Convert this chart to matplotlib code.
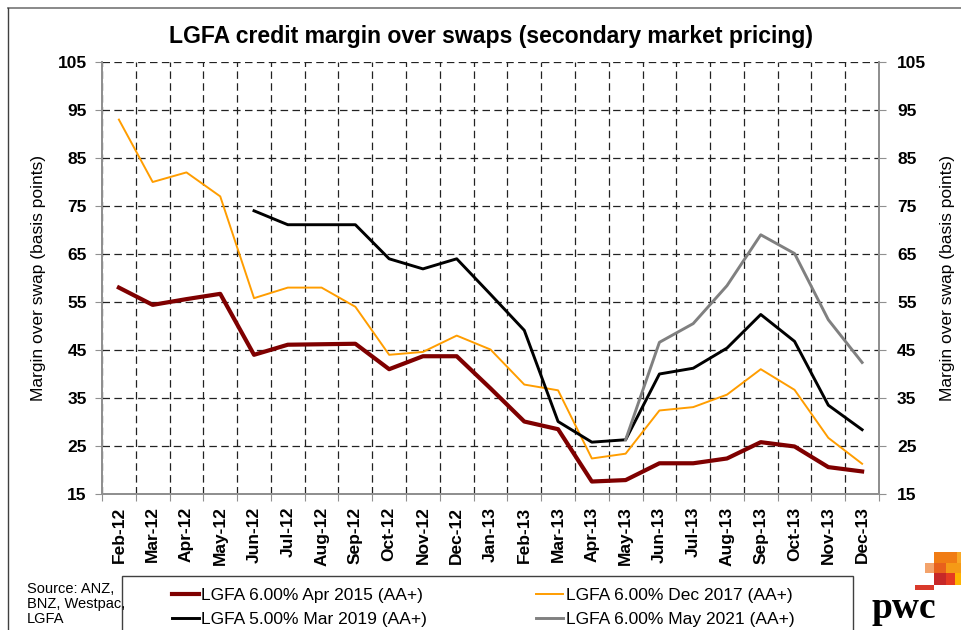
# LGFA credit margin over swaps - secondary market pricing chart
import numpy as np
import matplotlib.pyplot as plt
from matplotlib.patches import Rectangle
from matplotlib.lines import Line2D

plt.rcParams['font.family'] = ['Liberation Sans', 'DejaVu Sans']

# Months on the category axis
months = ['Feb-12', 'Mar-12', 'Apr-12', 'May-12', 'Jun-12', 'Jul-12', 'Aug-12', 'Sep-12',
          'Oct-12', 'Nov-12', 'Dec-12', 'Jan-13', 'Feb-13', 'Mar-13', 'Apr-13', 'May-13',
          'Jun-13', 'Jul-13', 'Aug-13', 'Sep-13', 'Oct-13', 'Nov-13', 'Dec-13']

nan = np.nan

# Margin over swap (basis points)
apr2015 = [58.0, 54.4, 55.6, 56.7, 44.0, 46.1, 46.2, 46.3, 41.0, 43.7, 43.7, 37.0,
           30.1, 28.5, 17.6, 17.9, 21.4, 21.4, 22.4, 25.8, 24.9, 20.6, 19.7]
dec2017 = [93.0, 80.0, 82.0, 77.0, 55.8, 58.0, 58.0, 54.0, 44.0, 44.6, 48.0, 45.1,
           37.8, 36.6, 22.4, 23.4, 32.4, 33.1, 35.7, 41.0, 36.7, 26.7, 21.3]
mar2019 = [nan, nan, nan, nan, 74.0, 71.1, 71.1, 71.1, 64.0, 61.9, 64.0, 56.6,
           49.1, 30.1, 25.8, 26.3, 40.0, 41.2, 45.4, 52.4, 46.8, 33.5, 28.4]
may2021 = [nan, nan, nan, nan, nan, nan, nan, nan, nan, nan, nan, nan,
           nan, nan, nan, 26.3, 46.6, 50.5, 58.4, 69.0, 65.1, 51.3, 42.4]

names = ['LGFA 6.00% Apr 2015 (AA+)', 'LGFA 6.00% Dec 2017 (AA+)',
         'LGFA 5.00% Mar 2019 (AA+)', 'LGFA 6.00% May 2021 (AA+)']

W, H = 962, 630
fig = plt.figure(figsize=(W / 100, H / 100), dpi=100)
ax = fig.add_axes([102 / W, 1 - 494 / H, 777 / W, 432 / H])

x = np.arange(len(months))
l1, = ax.plot(x, apr2015, color='#7f0000', lw=3.0, zorder=5)
l2, = ax.plot(x, dec2017, color='#ff9d00', lw=1.4, zorder=3)
l3, = ax.plot(x, mar2019, color='black', lw=2.1, zorder=4)
l4, = ax.plot(x, may2021, color='#808080', lw=2.1, zorder=4)

ax.set_xlim(-0.5, len(months) - 0.5)
ax.set_ylim(15, 105)
ax.set_yticks(np.arange(15, 106, 10))

# category boundaries carry the ticks and grid, labels sit at the centres
ax.set_xticks(np.arange(len(months) + 1) - 0.5)
ax.set_xticklabels([])
ax.set_xticks(x, minor=True)
ax.set_xticklabels(months, minor=True, rotation=90, fontsize=12.5, fontweight='bold')
ax.tick_params(axis='x', which='minor', length=0, pad=9)
ax.tick_params(axis='x', which='major', length=5, color='#909090', direction='out')
ax.tick_params(axis='y', length=5, color='#909090', labelsize=12.5, pad=6)
for t in ax.get_yticklabels():
    t.set_fontweight('bold')

ax.grid(True, which='major', color='#222222', lw=0.9, ls=(0, (6, 3.5)))
ax.set_axisbelow(True)
for s in ax.spines.values():
    s.set_color('#909090')
    s.set_linewidth(1.3)
ax.spines['top'].set_visible(False)

ax.set_ylabel('Margin over swap (basis points)', fontsize=12.5, labelpad=8)

ax2 = ax.twinx()
ax2.set_ylim(15, 105)
ax2.set_yticks(np.arange(15, 106, 10))
ax2.tick_params(axis='y', length=5, color='#909090', labelsize=12.5, pad=8)
for t in ax2.get_yticklabels():
    t.set_fontweight('bold')
for s in ax2.spines.values():
    s.set_color('#909090')
    s.set_linewidth(1.3)
ax2.spines['top'].set_visible(False)
ax2.set_ylabel('Margin over swap (basis points)', fontsize=12.5, labelpad=10)

# title
fig.text(491 / W, 1 - 36 / H, 'LGFA credit margin over swaps (secondary market pricing)',
         ha='center', va='center', fontsize=16.6, fontweight='bold')

# outer frame
fig.add_artist(Line2D([8 / W, 1], [1 - 8 / H, 1 - 8 / H], color='#808080', lw=1.3))
fig.add_artist(Line2D([8 / W, 8 / W], [0, 1 - 8 / H], color='#404040', lw=1.0))

# legend box and entries
fig.add_artist(Rectangle((122 / W, -0.01), (853 - 122) / W, 0.01 + 54 / H,
                         fill=False, ec='#404040', lw=1.0))
fig.legend([l1, l3, l2, l4], [names[0], names[2], names[1], names[3]],
           ncol=2, loc='upper left', bbox_to_anchor=(156 / W, 1 - 572 / H),
           frameon=False, fontsize=12.5, handlelength=1.55, handletextpad=0.15,
           columnspacing=6.3, labelspacing=0.55)

# source note
fig.text(27 / W, 1 - 582 / H, 'Source: ANZ,\nBNZ, Westpac,\nLGFA', ha='left', va='top',
         fontsize=10.5, linespacing=1.1)

# pwc logo
fig.text(872 / W, 1 - 618 / H, 'pwc', ha='left', va='baseline', fontsize=27,
         fontweight='bold', family='Liberation Serif')
blocks = [(934, 552, 23, 11, '#f07c14'), (957, 552, 5, 11, '#f9a825'),
          (925, 563, 9, 10, '#f3a36b'), (934, 563, 12, 10, '#e8601c'),
          (946, 563, 16, 10, '#f59a16'), (934, 573, 12, 12, '#c62828'),
          (946, 573, 9, 12, '#e53a22'), (955, 573, 7, 12, '#ffb300'),
          (915, 585, 19, 5, '#d93a2b')]
for bx, by, bw, bh, bc in blocks:
    fig.add_artist(Rectangle((bx / W, 1 - (by + bh) / H), bw / W, bh / H,
                             fc=bc, ec='none'))

plt.savefig('out.png', dpi=100)
